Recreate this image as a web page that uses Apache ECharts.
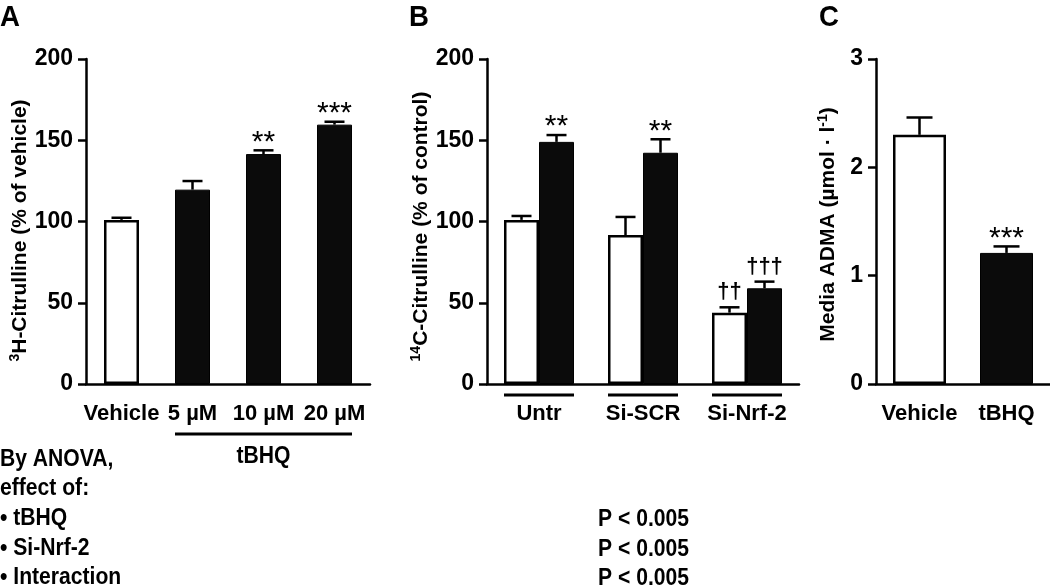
<!DOCTYPE html>
<html><head><meta charset="utf-8">
<script src="https://cdn.jsdelivr.net/npm/echarts@6/dist/echarts.min.js"></script>
<style>html,body{margin:0;padding:0;background:#fff}#c{width:1050px;height:588px}</style>
</head><body><div id="c"></div>
<script>
// ---------- DATA ----------
const catsA = ['Vehicle', '5 µM', '10 µM', '20 µM'];
const meanA = [101, 119.6, 141.5, 159.6];
const semA = [1.3, 5.3, 2.3, 1.8];
const sigA = ['', '', '**', '***'];
const groupLabelA = 'tBHQ';

const catsB = ['Untr', 'Si-SCR', 'Si-Nrf-2'];
const meanBctrl = [101, 91.7, 43.9];
const semBctrl = [2.4, 11.1, 3.3];
const sigBctrl = ['', '', '††'];
const meanBtbhq = [149, 142.3, 58.9];
const semBtbhq = [4.2, 8.3, 4.1];
const sigBtbhq = ['**', '**', '†††'];

const catsC = ['Vehicle', 'tBHQ'];
const meanC = [2.30, 1.21];
const semC = [0.16, 0.06];
const sigC = ['', '***'];

const yMaxAB = 200, yStepAB = 50;
const yMaxC = 3, yStepC = 1;

const panelLetters = ['A', 'B', 'C'];
const anovaLabels = ['By ANOVA,', 'effect of:', '• tBHQ', '• Si-Nrf-2', '• Interaction'];
const anovaP = ['', '', 'P < 0.005', 'P < 0.005', 'P < 0.005'];

// ---------- STYLE ----------
const F = "'Liberation Sans',Arial,sans-serif";
const LW = 2.5;
const BLACK = '#0b0b0b';
const barWA = 35, barWB = 35, barWC = 53;
const NARROW_SCALE = 0.88;

const chart = echarts.init(document.getElementById('c'), null, {renderer: 'canvas'});

function yAxisCfg(gi, max, step, nameRich, nameGap, pad) {
  return {
    type: 'value', gridIndex: gi, min: 0, max: max, interval: step,
    splitLine: {show: false},
    axisLine: {show: true, lineStyle: {color: '#000', width: LW}},
    axisTick: {show: true, length: 8, lineStyle: {color: '#000', width: LW}},
    axisLabel: {color: '#000', fontSize: 23, fontWeight: 'bold', fontFamily: F, margin: 13},
    name: nameRich, nameLocation: 'middle', nameGap: nameGap, nameRotate: 90,
    nameTextStyle: {
      color: '#000', fontSize: 21, fontWeight: 'bold', fontFamily: F, padding: pad,
      rich: {
        sup: {fontSize: 14, fontWeight: 'bold', fontFamily: F, verticalAlign: 'top', lineHeight: 25, color: '#000'},
        m: {fontSize: 21, fontWeight: 'bold', fontFamily: F, lineHeight: 25, color: '#000'}
      }
    }
  };
}
function xAxisCfg(gi, cats) {
  return {
    type: 'category', gridIndex: gi, data: cats,
    axisLine: {show: true, lineStyle: {color: '#000', width: LW}},
    axisTick: {show: false},
    axisLabel: {color: '#000', fontSize: 22, fontWeight: 'bold', fontFamily: F, margin: 19, interval: 0}
  };
}
function errSeries(gi, means, sems, sigs, offset, capW) {
  return {
    type: 'custom', xAxisIndex: gi, yAxisIndex: gi, z: 10, silent: true,
    data: means.map((m, i) => [i, m, sems[i]]),
    renderItem: function (params, api) {
      const i = api.value(0), m = api.value(1), e = api.value(2);
      const b = api.coord([i, m]), t = api.coord([i, m + e]);
      const x = b[0] + offset;
      const ch = [
        {type: 'line', shape: {x1: x, y1: b[1], x2: x, y2: t[1]}, style: {stroke: '#000', lineWidth: LW}},
        {type: 'line', shape: {x1: x - capW / 2, y1: t[1], x2: x + capW / 2, y2: t[1]}, style: {stroke: '#000', lineWidth: LW}}
      ];
      const s = sigs[params.dataIndex];
      if (s) {
        const star = s.indexOf('*') >= 0;
        ch.push({type: 'text', style: {
          text: s, x: x, y: star ? t[1] + 7 : t[1] - 4, align: 'center', verticalAlign: 'bottom',
          fontSize: star ? 30 : 22, fontFamily: F, fontWeight: star ? 'normal' : 'bold', fill: '#000'
        }});
      }
      return {type: 'group', children: ch};
    }
  };
}
const whiteStyle = {color: '#fff', borderColor: '#000', borderWidth: LW};
const blackStyle = {color: BLACK, borderColor: '#000', borderWidth: 1};

const option = {
  animation: false,
  backgroundColor: '#fff',
  grid: [
    {left: 86, top: 59, width: 284, height: 325},
    {left: 487, top: 59, width: 312, height: 325},
    {left: 876, top: 59, width: 178, height: 325}
  ],
  xAxis: [xAxisCfg(0, catsA), xAxisCfg(1, catsB), xAxisCfg(2, catsC)],
  yAxis: [
    yAxisCfg(0, yMaxAB, yStepAB, '{sup|3}{m|H-Citrulline (% of vehicle)}', 44, [0, 18, 0, 0]),
    yAxisCfg(1, yMaxAB, yStepAB, '{sup|14}{m|C-Citrulline (% of control)}', 46, [0, 10, 0, 0]),
    yAxisCfg(2, yMaxC, yStepC, '{m|Media ADMA (µmol · l}{sup|-1}{m|)}', 35, [0, 6, 0, 0])
  ],
  series: [
    {type: 'bar', xAxisIndex: 0, yAxisIndex: 0, barWidth: barWA,
      data: meanA.map((v, i) => ({value: v, itemStyle: i === 0 ? whiteStyle : blackStyle}))},
    errSeries(0, meanA, semA, sigA, 0, 20),
    {type: 'bar', xAxisIndex: 1, yAxisIndex: 1, barWidth: barWB, barGap: '0%', itemStyle: whiteStyle, data: meanBctrl},
    {type: 'bar', xAxisIndex: 1, yAxisIndex: 1, barWidth: barWB, barGap: '0%', itemStyle: blackStyle, data: meanBtbhq},
    errSeries(1, meanBctrl, semBctrl, sigBctrl, -barWB / 2, 20),
    errSeries(1, meanBtbhq, semBtbhq, sigBtbhq, barWB / 2, 20),
    {type: 'bar', xAxisIndex: 2, yAxisIndex: 2, barWidth: barWC,
      data: meanC.map((v, i) => ({value: v, itemStyle: i === 0 ? whiteStyle : blackStyle}))},
    errSeries(2, meanC, semC, sigC, 0, 26)
  ]
};
chart.setOption(option);

// ---------- annotations computed from axes ----------
const g = [];
const txt = (t, x, y, size, align, va, sx) => ({type: 'text', silent: true, x: x, y: y, scaleX: sx || 1, style: {
  text: t, x: 0, y: 0, fontSize: size, fontWeight: 'bold', fontFamily: F, fill: '#000',
  align: align || 'left', verticalAlign: va || 'top'}});
const hline = (x1, x2, y) => ({type: 'line', silent: true, shape: {x1: x1, y1: y, x2: x2, y2: y}, style: {stroke: '#000', lineWidth: 3}});

g.push(txt(panelLetters[0], 0, 3, 30, 'left', 'top', 0.92));
g.push(txt(panelLetters[1], 409, 3, 30, 'left', 'top', 0.92));
g.push(txt(panelLetters[2], 819, 3, 30, 'left', 'top', 0.92));

// tBHQ bracket in A (categories 1..last)
const a1 = chart.convertToPixel({gridIndex: 0}, [1, 0]);
const a3 = chart.convertToPixel({gridIndex: 0}, [catsA.length - 1, 0]);
const lineYA = a1[1] + 50;
const ax1 = a1[0] - barWA / 2, ax2 = a3[0] + barWA / 2;
g.push(hline(ax1, ax2, lineYA));
g.push(txt(groupLabelA, (ax1 + ax2) / 2, lineYA + 22, 24, 'center', 'middle', NARROW_SCALE));

// group underlines in B
catsB.forEach((c, i) => {
  const p = chart.convertToPixel({gridIndex: 1}, [i, 0]);
  g.push(hline(p[0] - barWB, p[0] + barWB, p[1] + 11));
});

// ANOVA text block
anovaLabels.forEach((t, i) => {
  const y = 459 + i * 29.7;
  g.push(txt(t, 0, y, 24, 'left', 'middle', NARROW_SCALE));
  if (anovaP[i]) g.push(txt(anovaP[i], 598, y + 1, 24, 'left', 'middle', NARROW_SCALE));
});

chart.setOption({graphic: {elements: g}});
</script>
</body></html>
